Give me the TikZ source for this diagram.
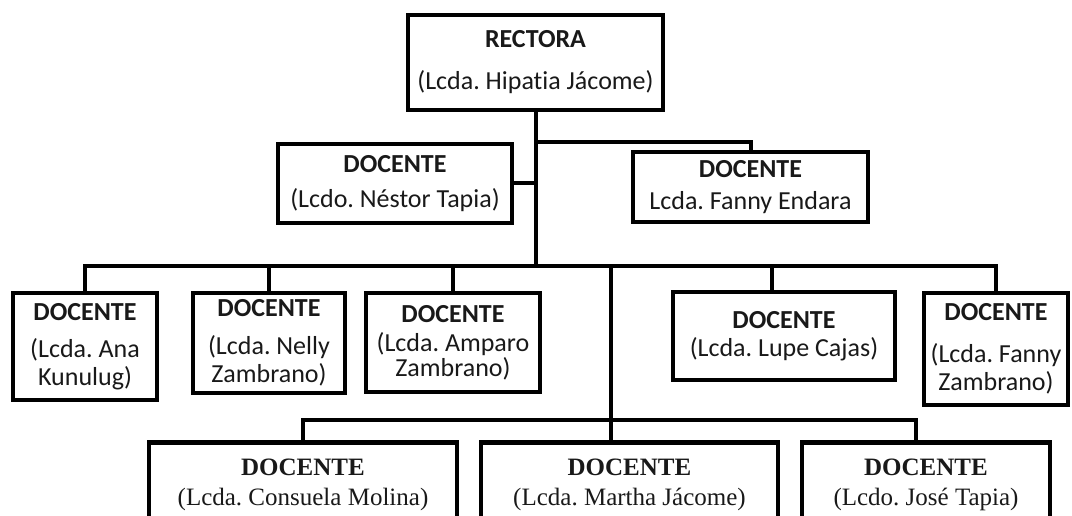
\documentclass[tikz,border=0pt]{standalone}
\usepackage{fontspec}
\setmainfont{Carlito}[Ligatures=NoCommon]
\newfontfamily\romana{Liberation Serif}
\frenchspacing
\begin{document}
\begin{tikzpicture}[x=1pt,y=-1pt,line join=miter,
	caja/.style={draw,line width=4.5pt,inner sep=0pt,align=center,text=black!90,
		font=\fontsize{26}{28}\selectfont},
	cajaR/.style={caja,font=\romana\fontsize{25}{30}\selectfont},
	linea/.style={line width=4pt}]
	\useasboundingbox (0,0) rectangle (1072,516);
	\clip (0,0) rectangle (1072,516);
	% rectora y primer nivel
	\node[caja,minimum width=255pt,minimum height=95pt] (rectora) at (535.5,62.5) {\textbf{RECTORA}\\[14pt](Lcda. Hipatia Jácome)};
	\node[caja,minimum width=234pt,minimum height=79pt] (nestor) at (395,183.5) {\textbf{DOCENTE}\\[7pt](Lcdo. Néstor Tapia)};
	\node[caja,minimum width=235pt,minimum height=70pt] (endara) at (750.5,187) {\textbf{DOCENTE}\\[4pt]Lcda. Fanny Endara};
	% segundo nivel
	\node[caja,minimum width=144pt,minimum height=107pt] (ana) at (85,346.5) {\textbf{DOCENTE}\\[9pt](Lcda. Ana\\Kunulug)};
	\node[caja,minimum width=152pt,minimum height=100pt] (nelly) at (269,343) {\textbf{DOCENTE}\\[10pt](Lcda. Nelly\\Zambrano)};
	\node[caja,minimum width=174pt,minimum height=99pt] (amparo) at (453,342.5) {\textbf{DOCENTE}\\[1pt](Lcda. Amparo\\[-3pt]Zambrano)};
	\node[caja,minimum width=222pt,minimum height=88pt] (lupe) at (784,336) {\textbf{DOCENTE}\\(Lcda. Lupe Cajas)};
	\node[caja,minimum width=144pt,minimum height=112pt] (fannyz) at (996,349) {\textbf{DOCENTE}\\[14pt](Lcda. Fanny\\Zambrano)};
	% tercer nivel
	\node[cajaR,minimum width=308pt,minimum height=140pt,anchor=north] (consuela) at (303,440) {\textbf{DOCENTE}\\(Lcda. Consuela Molina)\\ \\ };
	\node[cajaR,minimum width=297pt,minimum height=140pt,anchor=north] (martha) at (629.5,440) {\textbf{DOCENTE}\\(Lcda. Martha Jácome)\\ \\ };
	\node[cajaR,minimum width=248pt,minimum height=140pt,anchor=north] (jose) at (926,440) {\textbf{DOCENTE}\\(Lcdo. José Tapia)\\ \\ };
	% conectores
	\coordinate (ramaE) at (535.5,142);
	\coordinate (barra) at (535.5,266);
	\coordinate (cruce) at (611,266);
	\coordinate (barra2) at (611,420);
	\draw[linea] (rectora.south) -- (barra);
	\draw[linea] (nestor.east) -- (nestor.east -| rectora.south);
	\draw[linea] (ramaE) -| (endara.north);
	\draw[linea] (ana.north) |- (barra) -| (fannyz.north);
	\draw[linea] (nelly.north) -- (nelly.north |- barra);
	\draw[linea] (amparo.north) -- (amparo.north |- barra);
	\draw[linea] ([xshift=-12pt]lupe.north) -- ([xshift=-12pt]lupe.north |- barra);
	\draw[linea] (cruce) -- (cruce |- martha.north);
	\draw[linea] (consuela.north) |- (barra2) -| ([xshift=-10pt]jose.north);
\end{tikzpicture}
\end{document}
